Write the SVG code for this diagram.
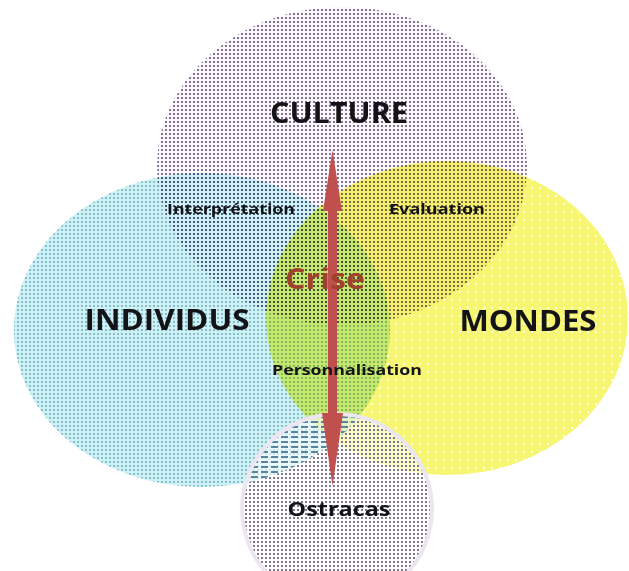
<svg xmlns="http://www.w3.org/2000/svg" width="629" height="571" viewBox="0 0 629 571">
<style>
.lbl{font-family:"Open Sans","Liberation Sans",sans-serif;font-weight:700;fill:#141418;text-anchor:middle}
.big{font-size:28px}
.mid{font-size:15px}
.mul{mix-blend-mode:multiply}
</style>
<defs>
<pattern id="pCult" width="4" height="4" patternUnits="userSpaceOnUse"><rect x="1" y="1" width="2" height="2" fill="#85739a"/></pattern>
<pattern id="pInd" width="4" height="4" patternUnits="userSpaceOnUse"><rect x="1" y="1" width="2" height="2" fill="#a2cdd3"/></pattern>
<pattern id="pMon" width="8" height="8" patternUnits="userSpaceOnUse"><rect x="3" y="3" width="2" height="2" fill="#ffffff" opacity="0.8"/></pattern>
<pattern id="pOst" width="4" height="4" patternUnits="userSpaceOnUse"><rect x="1" y="1" width="2" height="2" fill="#7f7591"/></pattern>
<pattern id="pStripe" width="10" height="5" patternUnits="userSpaceOnUse"><rect x="1" y="1" width="7" height="2" fill="#5a83a0"/></pattern>
<clipPath id="cInd"><ellipse cx="202" cy="330" rx="188" ry="157"/></clipPath>
<mask id="mMonOnly" maskUnits="userSpaceOnUse" x="0" y="0" width="629" height="571">
<ellipse cx="447" cy="318" rx="181" ry="157" fill="#fff"/>
<ellipse cx="202" cy="330" rx="188" ry="157" fill="#000"/>
<ellipse cx="342" cy="166" rx="185" ry="159" fill="#000"/>
</mask>
<mask id="mOstNoInd" maskUnits="userSpaceOnUse" x="0" y="0" width="629" height="571">
<circle cx="337" cy="509" r="93" fill="#fff"/>
<ellipse cx="202" cy="330" rx="188" ry="157" fill="#000"/>
</mask>
</defs>
<rect width="629" height="571" fill="#ffffff"/>
<g id="culture">
<ellipse cx="342" cy="166" rx="185" ry="159" fill="#fbf8fc"/>
</g>
<g id="individus">
<ellipse cx="202" cy="330" rx="188" ry="157" fill="#cff0f5"/>
</g>
<g id="mondes">
<ellipse class="mul" cx="447" cy="318" rx="181" ry="157" fill="#f6f672"/>
</g>
<g id="textures">
<ellipse class="mul" cx="202" cy="330" rx="188" ry="157" fill="url(#pInd)"/>
<rect x="0" y="0" width="629" height="571" fill="url(#pMon)" mask="url(#mMonOnly)"/>
<ellipse class="mul" cx="342" cy="166" rx="185" ry="159" fill="url(#pCult)"/>
</g>
<g id="ostracas">
<circle cx="337" cy="509" r="95" fill="#ffffff" fill-opacity="0.6" stroke="#ece6f0" stroke-width="4"/>
<rect x="230" y="400" width="220" height="171" fill="url(#pOst)" mask="url(#mOstNoInd)"/>
<g clip-path="url(#cInd)"><circle cx="337" cy="509" r="93" fill="url(#pStripe)"/></g>
</g>
<g id="connectors">
<polygon points="332.5,150 342,211 337,211 337,413 343,413 332.5,486 322,413 328,413 328,211 323,211" fill="#c0504d"/>
</g>
<g id="labels">
<text class="lbl big" x="339" y="123" textLength="138" lengthAdjust="spacingAndGlyphs">CULTURE</text>
<text class="lbl big" x="167" y="330" textLength="165" lengthAdjust="spacingAndGlyphs">INDIVIDUS</text>
<text class="lbl big" x="528" y="331" textLength="137" lengthAdjust="spacingAndGlyphs">MONDES</text>
<text class="lbl" x="325" y="289" font-size="29" style="fill:#a0412d" textLength="80" lengthAdjust="spacingAndGlyphs">Crise</text>
<text class="lbl mid" x="231" y="214" textLength="128" lengthAdjust="spacingAndGlyphs">Interprétation</text>
<text class="lbl mid" x="437" y="214" textLength="96" lengthAdjust="spacingAndGlyphs">Evaluation</text>
<text class="lbl mid" x="347" y="375" textLength="150" lengthAdjust="spacingAndGlyphs">Personnalisation</text>
<text class="lbl" x="339" y="516" font-size="19" textLength="103" lengthAdjust="spacingAndGlyphs">Ostracas</text>
</g>
</svg>
